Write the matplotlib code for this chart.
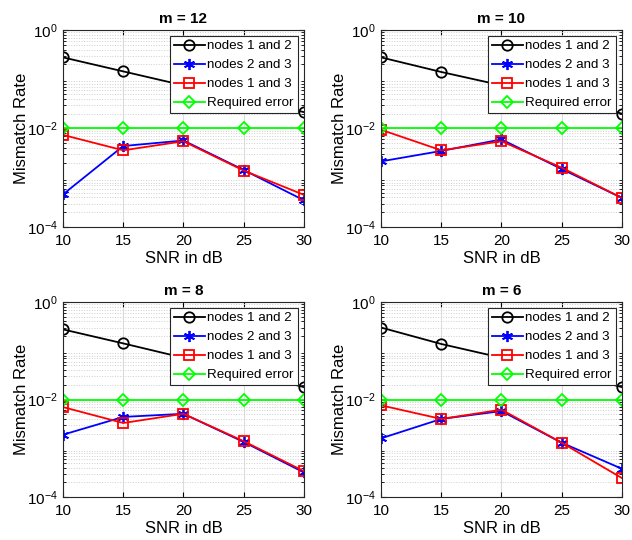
import matplotlib
matplotlib.use("Agg")
import matplotlib.pyplot as plt
from matplotlib.ticker import LogLocator, NullFormatter

plt.rcParams["font.family"] = ["Liberation Sans", "DejaVu Sans"]

snr = [10, 15, 20, 25, 30]
titles = ["m = 12", "m = 10", "m = 8", "m = 6"]

# mismatch rates, one list per subplot
nodes12 = [
    [0.277, 0.144, 0.075, 0.040, 0.0215],
    [0.277, 0.140, 0.075, 0.040, 0.020],
    [0.275, 0.142, 0.072, 0.038, 0.018],
    [0.300, 0.138, 0.072, 0.038, 0.018],
]
nodes23 = [
    [4.6e-4, 0.0044, 0.0057, 0.00144, 3.5e-4],
    [0.00215, 0.0035, 0.0060, 0.0015, 3.9e-4],
    [0.0019, 0.0044, 0.0051, 0.00135, 3.2e-4],
    [0.0016, 0.0040, 0.0058, 0.0013, 3.8e-4],
]
nodes13 = [
    [0.0074, 0.0036, 0.0055, 0.0014, 4.5e-4],
    [0.0094, 0.0036, 0.0055, 0.0016, 3.9e-4],
    [0.0070, 0.0033, 0.0051, 0.0014, 3.4e-4],
    [0.0076, 0.0040, 0.0062, 0.0013, 2.45e-4],
]
required = [0.01, 0.01, 0.01, 0.01, 0.01]

fig = plt.figure(figsize=(6.32, 5.40), dpi=100)
positions = [
    [0.0997, 0.5796, 0.381, 0.365],
    [0.603, 0.5796, 0.381, 0.365],
    [0.0997, 0.0796, 0.381, 0.361],
    [0.603, 0.0796, 0.381, 0.361],
]

for i in range(4):
    ax = fig.add_axes(positions[i])
    ax.semilogy(snr, nodes12[i], "k-o", mfc="none", ms=7.5, mew=1.3, lw=1.3,
                label="nodes 1 and 2")
    ax.semilogy(snr, nodes23[i], "b-", marker=(6, 2, 0), ms=8, mew=1.3, lw=1.3,
                label="nodes 2 and 3")
    ax.semilogy(snr, nodes13[i], "r-s", mfc="none", ms=6.5, mew=1.3, lw=1.3,
                label="nodes 1 and 3")
    ax.semilogy(snr, required, "-D", color="#00ff00", mfc="none", ms=6.5, mew=1.3, lw=1.3,
                label="Required error")
    ax.set_xlim(10, 30)
    ax.set_ylim(1e-4, 1)
    ax.set_xticks(snr)
    ax.set_yticks([1e-4, 1e-2, 1])
    ax.yaxis.set_minor_locator(LogLocator(base=10, subs=range(2, 10), numticks=20))
    ax.yaxis.set_minor_formatter(NullFormatter())
    ax.grid(True, which="major", color="#dcdcdc", lw=0.8)
    ax.grid(True, which="minor", axis="y", color="#cfcfcf", ls=":", lw=0.7)
    ax.set_axisbelow(True)
    ax.tick_params(which="both", direction="in", top=True, right=True, labelsize=11)
    ax.tick_params(axis="x", pad=5)
    ax.tick_params(axis="y", pad=4)
    ax.tick_params(which="minor", length=2)
    for s in ax.spines.values():
        s.set_color("#262626")
        s.set_linewidth(0.8)
    ax.set_title(titles[i], fontsize=11, fontweight="bold", pad=5)
    ax.set_xlabel("SNR in dB", fontsize=12, labelpad=2)
    ax.set_ylabel("Mismatch Rate", fontsize=12, labelpad=-2)
    leg = ax.legend(loc="upper right", fontsize=9.6, handlelength=2.3, labelspacing=0.5,
                    borderpad=0.3, handletextpad=0.2, borderaxespad=0.45,
                    fancybox=False, framealpha=1, edgecolor="#262626")
    leg.get_frame().set_linewidth(0.8)

fig.savefig("out.png", dpi=100)
